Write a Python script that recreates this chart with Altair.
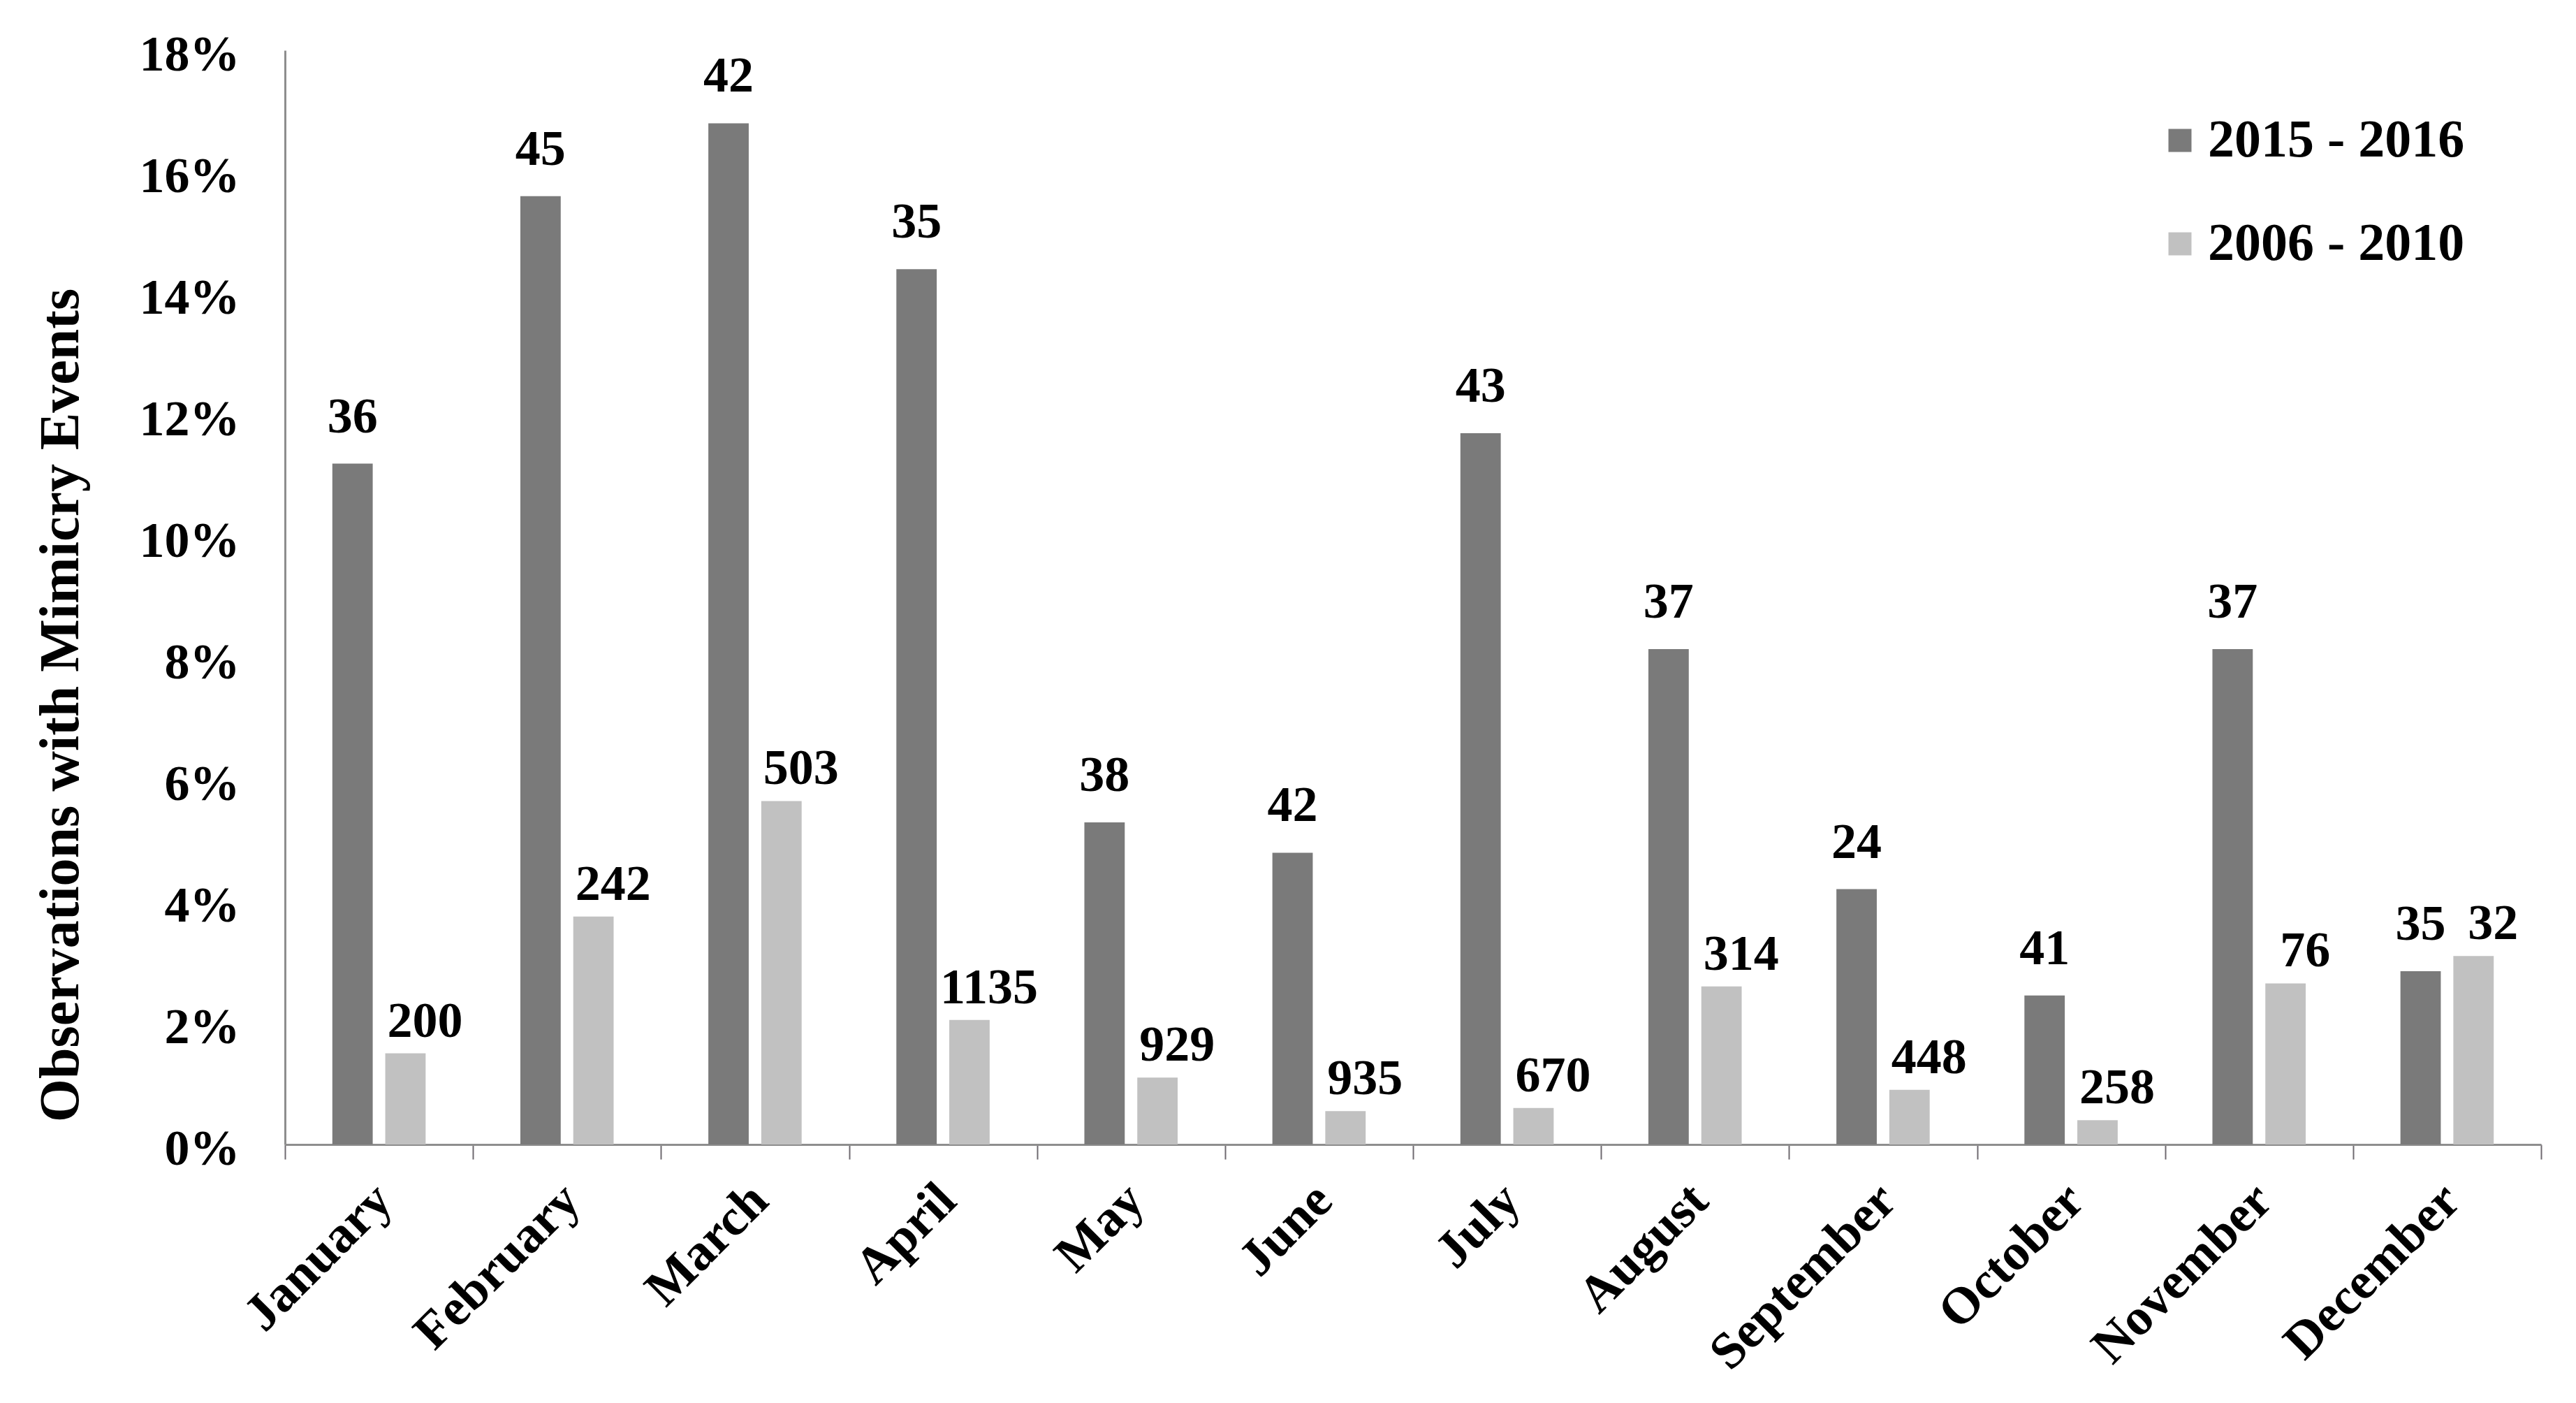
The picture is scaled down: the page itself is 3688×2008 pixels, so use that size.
import altair as alt
import pandas as pd

months = ["January", "February", "March", "April", "May", "June", "July",
          "August", "September", "October", "November", "December"]
series = ["2015 - 2016", "2006 - 2010"]

# percentage of observations with mimicry events
pct_2015 = [11.2, 15.6, 16.8, 14.4, 5.3, 4.8, 11.7, 8.15, 4.2, 2.45, 8.15, 2.85]
pct_2006 = [1.5, 3.75, 5.65, 2.05, 1.1, 0.55, 0.6, 2.6, 0.9, 0.4, 2.65, 3.1]

# number of observations (bar labels)
n_2015 = [36, 45, 42, 35, 38, 42, 43, 37, 24, 41, 37, 35]
n_2006 = [200, 242, 503, 1135, 929, 935, 670, 314, 448, 258, 76, 32]

rows = []
for i, m in enumerate(months):
    rows.append({"month": m, "series": series[0], "value": pct_2015[i] / 100, "n": n_2015[i]})
    rows.append({"month": m, "series": series[1], "value": pct_2006[i] / 100, "n": n_2006[i]})
df = pd.DataFrame(rows)

FONT = "Liberation Serif"
colors = ["#7a7a7a", "#c1c1c1"]

x_enc = alt.X(
    "month:N", sort=months,
    scale=alt.Scale(paddingInner=0, paddingOuter=0),
    axis=alt.Axis(
        title=None, labelAngle=-45, labelAlign="right", labelBaseline="top",
        labelFont=FONT, labelFontWeight="bold", labelFontSize=74, labelColor="#000000",
        labelPadding=22, labelOffset=-19, labelLimit=1000, tickBand="extent", ticks=True,
        tickSize=21, tickWidth=2, tickColor="#6f6a70", domainColor="#8e8e8e", domainWidth=3,
        grid=False, labelOverlap=False,
    ),
)
xoff_scale = alt.Scale(domain=series, paddingInner=0.237, paddingOuter=0.895)
y_enc = alt.Y(
    "value:Q",
    scale=alt.Scale(domain=[0, 0.18], nice=False),
    axis=alt.Axis(
        title="Observations with Mimicry Events", format=".0%", values=[i / 100 for i in range(0, 19, 2)],
        labelFont=FONT, labelFontWeight="bold", labelFontSize=72, labelColor="#000000",
        labelPadding=65, labelOffset=6, ticks=False, tickSize=0, grid=False,
        domainColor="#8e8e8e", domainWidth=3,
        titleFont=FONT, titleFontWeight="bold", titleFontSize=80, titleColor="#000000",
        titleAngle=-90, titleX=-321, titleY=937, titleBaseline="middle", titleAlign="center",
    ),
)

bars = alt.Chart(df).mark_bar().encode(
    x=x_enc,
    xOffset=alt.XOffset("series:N", sort=series, scale=xoff_scale),
    y=y_enc,
    color=alt.Color(
        "series:N", sort=series,
        scale=alt.Scale(domain=series, range=colors),
        legend=alt.Legend(
            title=None, orient="none", legendX=2675, legendY=91,
            symbolType="square", symbolSize=1089, symbolStrokeWidth=0,
            labelFont=FONT, labelFontWeight="bold", labelFontSize=76, labelColor="#000000",
            labelOffset=2, rowPadding=72, labelLimit=800,
        ),
    ),
)

labels_dark = alt.Chart(df).transform_filter(
    alt.datum.series == series[0]
).mark_text(
    font=FONT, fontWeight="bold", fontSize=72, color="#000000", dy=-45, baseline="alphabetic"
).encode(x=alt.X("month:N", sort=months), xOffset=alt.XOffset("series:N", sort=series),
         y="value:Q", text="n:Q")

labels_light = alt.Chart(df).transform_filter(
    alt.datum.series == series[1]
).mark_text(
    font=FONT, fontWeight="bold", fontSize=72, color="#000000", dy=-24, dx=28, baseline="alphabetic"
).encode(x=alt.X("month:N", sort=months), xOffset=alt.XOffset("series:N", sort=series),
         y="value:Q", text="n:Q")

chart = alt.layer(bars, labels_dark, labels_light).properties(
    width=3230, height=1566,
    autosize=alt.AutoSizeParams(type="none"),
    padding={"left": 400, "top": 64, "right": 40, "bottom": 360},
    background="#ffffff",
).configure_view(stroke=None)

chart.save("out.html", embed_options={"renderer": "svg", "actions": False})
